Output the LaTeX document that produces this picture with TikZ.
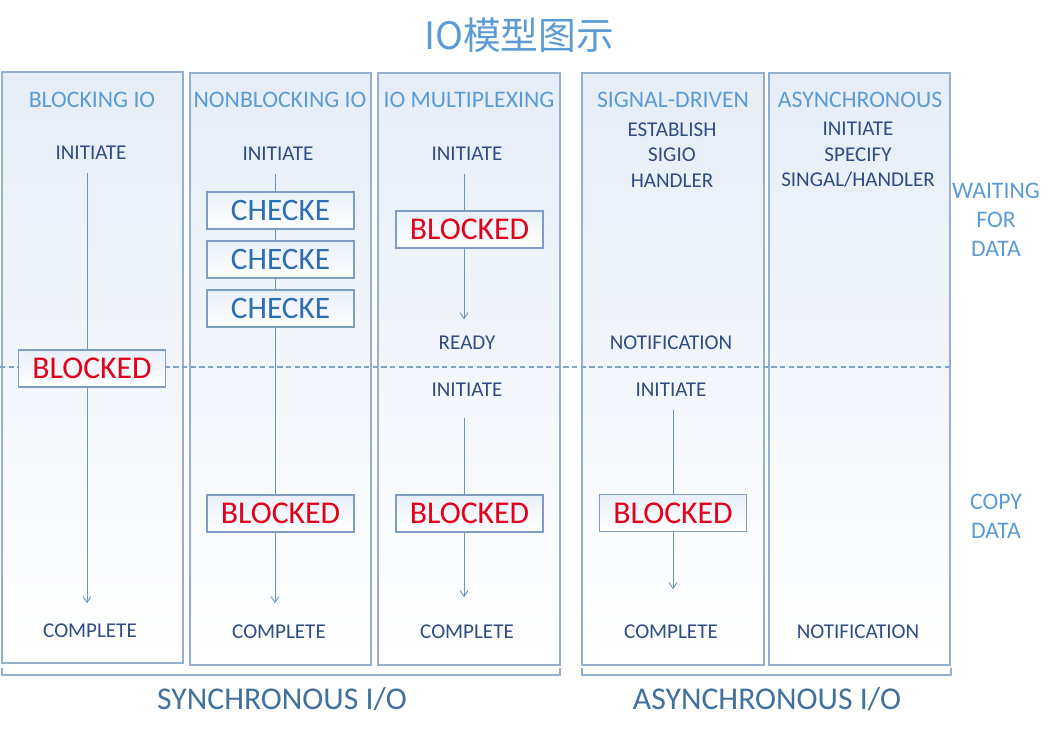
\documentclass[tikz,border=0pt]{standalone}
\usepackage{fontspec}
\setmainfont{Carlito}
\newfontfamily\cjk{Noto Sans CJK SC}
\usetikzlibrary{arrows.meta,shadows}

\definecolor{hdrblue}{HTML}{5B9BD5}
\definecolor{navy}{HTML}{2F4D83}
\definecolor{chkblue}{HTML}{2E6EB5}
\definecolor{blkred}{HTML}{E3001B}
\definecolor{flowc}{HTML}{6F93BF}
\definecolor{panelc}{HTML}{94AFD0}
\definecolor{paneltop}{HTML}{E6EDF7}
\definecolor{boxtop}{HTML}{E9F0F9}
\definecolor{boxc}{HTML}{7F9CC2}
\definecolor{grouplbl}{HTML}{41719C}
\definecolor{dashc}{HTML}{7EA6D0}

\tikzset{
  panel/.style={draw=panelc, line width=0.9pt, top color=paneltop, bottom color=white,
    drop shadow={opacity=0.12, shadow xshift=0.6pt, shadow yshift=-1pt}},
  hdr/.style={font=\fontsize{17.8}{20}\selectfont, text=hdrblue, inner sep=0pt},
  lbl/.style={font=\fontsize{15.8}{19.1}\selectfont, text=navy, inner sep=0pt, align=center},
  side/.style={font=\fontsize{17.8}{21.75}\selectfont, text=hdrblue, inner sep=0pt, align=center},
  stepbox/.style={draw=boxc, line width=0.8pt, top color=boxtop, bottom color=white,
    minimum width=110.25pt, minimum height=27.75pt, inner sep=0pt},
  checkbox/.style={stepbox, text=chkblue, font=\fontsize{23.4}{25}\selectfont},
  blockbox/.style={stepbox, text=blkred, font=\fontsize{23.8}{25}\selectfont},
  flow/.style={draw=flowc, line width=0.7pt},
  flowarrow/.style={flow, -{Straight Barb[length=4.5pt,width=6pt]}},
  bracket/.style={draw=panelc, line width=0.9pt},
  group/.style={font=\fontsize{23.8}{25}\selectfont, text=grouplbl, inner sep=0pt}
}

\begin{document}
\begin{tikzpicture}[x=0.75pt,y=-0.75pt]
\useasboundingbox (0,0) rectangle (1059,735);

% title
\node[font=\cjk\fontsize{28.3}{30}\selectfont, text=hdrblue, inner sep=0pt] (title) at (519,35) {IO模型图示};

% the five model panels
\draw[panel] (2,72) rectangle (183,663);
\draw[panel] (190,73) rectangle (371,665);
\draw[panel] (378,73) rectangle (560,665);
\draw[panel] (582,73) rectangle (764,665);
\draw[panel] (769,73) rectangle (950,665);

% panel headings
\node[hdr] (h1) at (92,100) {BLOCKING IO};
\node[hdr] (h2) at (280,100) {NONBLOCKING IO};
\node[hdr] (h3) at (469,100) {IO MULTIPLEXING};
\node[hdr] (h4) at (673,100) {SIGNAL-DRIVEN};
\node[hdr] (h5) at (860,100) {ASYNCHRONOUS};

% lanes of the vertical flow lines
\coordinate (l1) at (87,0);
\coordinate (l2) at (275,0);
\coordinate (l3) at (464,0);
\coordinate (l4) at (673,0);

% step labels
\node[lbl] (i1) at (91,153) {INITIATE};
\node[lbl] (k1) at (90,631) {COMPLETE};

\node[lbl] (i2) at (278,154) {INITIATE};
\node[lbl] (k2) at (279,632) {COMPLETE};

\node[lbl] (i3a) at (467,154) {INITIATE};
\node[lbl] (r3) at (467,343) {READY};
\node[lbl] (i3b) at (467,390) {INITIATE};
\node[lbl] (k3) at (467,632) {COMPLETE};

\node[lbl] (e4) at (672,155) {ESTABLISH\\SIGIO\\HANDLER};
\node[lbl] (n4) at (671,343) {NOTIFICATION};
\node[lbl] (i4) at (671,390) {INITIATE};
\node[lbl] (k4) at (671,632) {COMPLETE};

\node[lbl] (i5) at (858,155) {INITIATE\\SPECIFY\\SINGAL/HANDLER};
\node[lbl] (n5) at (858,632) {NOTIFICATION};

% phase labels on the right
\node[side] (wait) at (996,220) {WAITING\\FOR\\DATA};
\node[side] (copy) at (996,516.5) {COPY\\DATA};

% boundary between waiting and copying
\coordinate (dl) at (0,367);
\coordinate (dr) at (951,367);
\draw[draw=dashc, line width=0.9pt, dash pattern=on 4pt off 2.5pt] (dl) -- (dr);

% flow lines (boxes are drawn on top of them)
\draw[flowarrow, shorten <=10.1pt, shorten >=15.4pt] (l1 |- i1.south) -- (l1 |- k1.north);
\draw[flowarrow, shorten <=10.1pt, shorten >=16.1pt] (l2 |- i2.south) -- (l2 |- k2.north);
\draw[flowarrow, shorten <=10.1pt, shorten >=12.4pt] (l3 |- i3a.south) -- (l3 |- r3.north);
\draw[flowarrow, shorten <=16.1pt, shorten >=20.6pt] (l3 |- i3b.south) -- (l3 |- k3.north);
\draw[flowarrow, shorten <=10.1pt, shorten >=26.6pt] (l4 |- i4.south) -- (l4 |- k4.north);

% state boxes
\node[blockbox] (b1) at (92,368.5) {BLOCKED};

\node[checkbox] (c1) at (280.5,210.5) {CHECKE};
\node[checkbox] (c2) at (280.5,259.5) {CHECKE};
\node[checkbox] (c3) at (280.5,308.5) {CHECKE};
\node[blockbox] (b2) at (280.5,513.5) {BLOCKED};

\node[blockbox] (b3a) at (469.5,229.5) {BLOCKED};
\node[blockbox] (b3b) at (469.5,513.5) {BLOCKED};

\node[blockbox] (b4) at (673,513) {BLOCKED};

% grouping brackets
\draw[bracket] (2,668) -- (2,675) -- (560,675) -- (560,668);
\draw[bracket] (582,668) -- (582,675) -- (951,675) -- (951,668);
\node[group] (sync) at (282,699) {SYNCHRONOUS I/O};
\node[group] (async) at (767,699) {ASYNCHRONOUS I/O};
\end{tikzpicture}
\end{document}
